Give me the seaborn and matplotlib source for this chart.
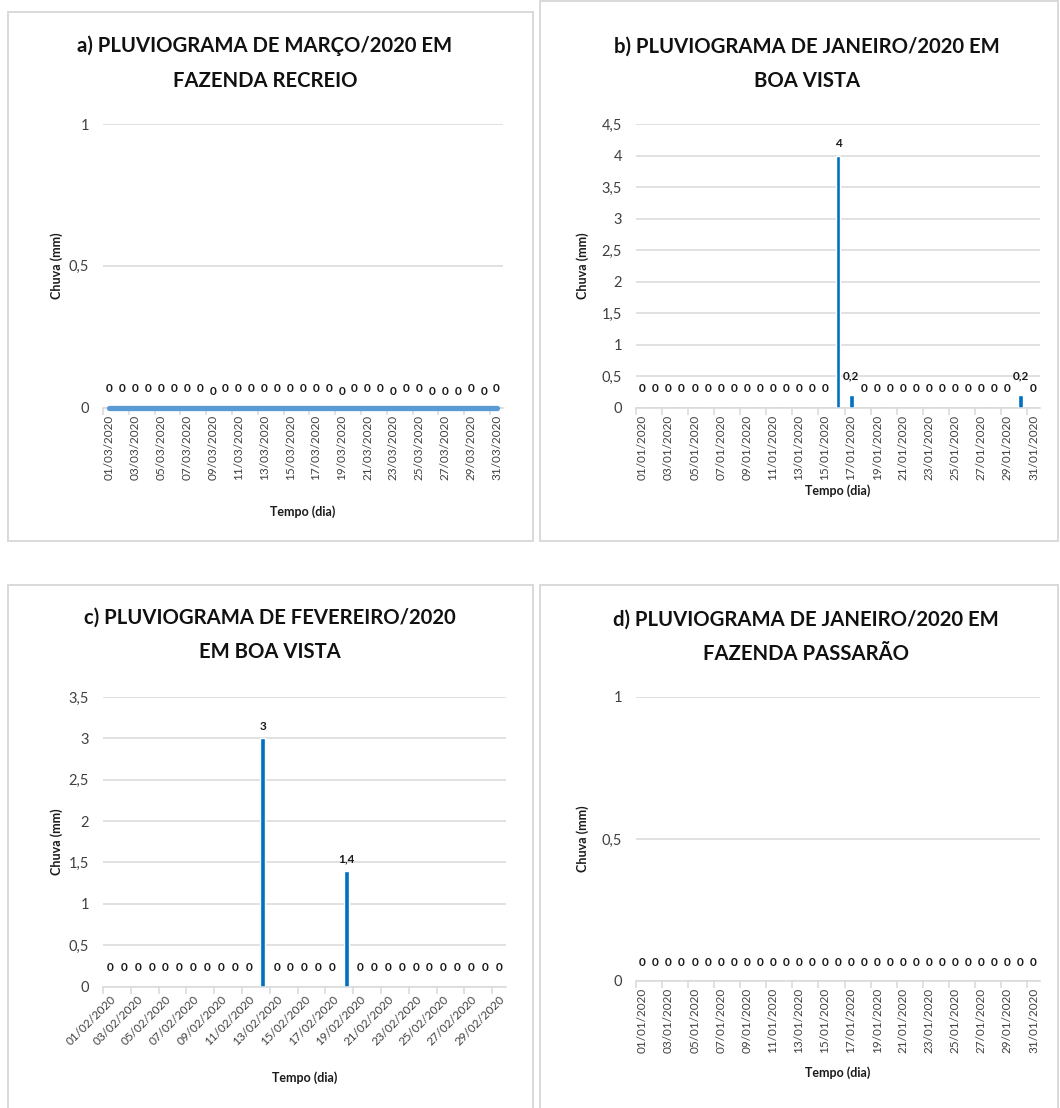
import matplotlib
matplotlib.use("Agg")
import matplotlib.pyplot as plt
from matplotlib.patches import Rectangle
from matplotlib.ticker import FuncFormatter
import numpy as np
import pandas as pd
import seaborn as sns

# ---------------- data ----------------
dias_marco = ["01/03/2020", "02/03/2020", "03/03/2020", "04/03/2020", "05/03/2020", "06/03/2020",
              "07/03/2020", "08/03/2020", "09/03/2020", "10/03/2020", "11/03/2020", "12/03/2020",
              "13/03/2020", "14/03/2020", "15/03/2020", "16/03/2020", "17/03/2020", "18/03/2020",
              "19/03/2020", "20/03/2020", "21/03/2020", "22/03/2020", "23/03/2020", "24/03/2020",
              "25/03/2020", "26/03/2020", "27/03/2020", "28/03/2020", "29/03/2020", "30/03/2020",
              "31/03/2020"]
dias_janeiro = ["01/01/2020", "02/01/2020", "03/01/2020", "04/01/2020", "05/01/2020", "06/01/2020",
                "07/01/2020", "08/01/2020", "09/01/2020", "10/01/2020", "11/01/2020", "12/01/2020",
                "13/01/2020", "14/01/2020", "15/01/2020", "16/01/2020", "17/01/2020", "18/01/2020",
                "19/01/2020", "20/01/2020", "21/01/2020", "22/01/2020", "23/01/2020", "24/01/2020",
                "25/01/2020", "26/01/2020", "27/01/2020", "28/01/2020", "29/01/2020", "30/01/2020",
                "31/01/2020"]
dias_fevereiro = ["01/02/2020", "02/02/2020", "03/02/2020", "04/02/2020", "05/02/2020", "06/02/2020",
                  "07/02/2020", "08/02/2020", "09/02/2020", "10/02/2020", "11/02/2020", "12/02/2020",
                  "13/02/2020", "14/02/2020", "15/02/2020", "16/02/2020", "17/02/2020", "18/02/2020",
                  "19/02/2020", "20/02/2020", "21/02/2020", "22/02/2020", "23/02/2020", "24/02/2020",
                  "25/02/2020", "26/02/2020", "27/02/2020", "28/02/2020", "29/02/2020"]

chuva_marco_recreio = [0, 0, 0, 0, 0, 0, 0, 0, 0, 0, 0, 0, 0, 0, 0, 0,
                       0, 0, 0, 0, 0, 0, 0, 0, 0, 0, 0, 0, 0, 0, 0]
chuva_janeiro_boavista = [0, 0, 0, 0, 0, 0, 0, 0, 0, 0, 0, 0, 0, 0, 0, 4,
                          0.2, 0, 0, 0, 0, 0, 0, 0, 0, 0, 0, 0, 0, 0.2, 0]
chuva_fevereiro_boavista = [0, 0, 0, 0, 0, 0, 0, 0, 0, 0, 0, 3, 0, 0, 0,
                            0, 0, 1.4, 0, 0, 0, 0, 0, 0, 0, 0, 0, 0, 0]
chuva_janeiro_passarao = [0, 0, 0, 0, 0, 0, 0, 0, 0, 0, 0, 0, 0, 0, 0, 0,
                          0, 0, 0, 0, 0, 0, 0, 0, 0, 0, 0, 0, 0, 0, 0]

titulos = ["a) PLUVIOGRAMA DE MARÇO/2020 EM\nFAZENDA RECREIO",
           "b) PLUVIOGRAMA DE JANEIRO/2020 EM\nBOA VISTA",
           "c) PLUVIOGRAMA DE FEVEREIRO/2020\nEM BOA VISTA",
           "d) PLUVIOGRAMA DE JANEIRO/2020 EM\nFAZENDA PASSARÃO"]

# ---------------- style ----------------
sns.set_theme(style="white")
plt.rcParams["font.family"] = ["Lato", "DejaVu Sans"]

W, H = 1060, 1108
fig = plt.figure(figsize=(W / 100, H / 100), dpi=100)
fig.patch.set_facecolor("white")

AZUL = "#0070C0"
AZUL_LINHA = "#5B9BD5"
GRADE = "#D9D9D9"
TEXTO = "#404040"


def px_rect(l, t, r, b):
    return [l / W, 1 - b / H, (r - l) / W, (b - t) / H]


def moldura(l, t, r, b):
    fig.patches.append(Rectangle((l / W, 1 - b / H), (r - l) / W, (b - t) / H,
                                 transform=fig.transFigure, fill=False,
                                 edgecolor=GRADE, lw=1.4, zorder=0))


virgula = FuncFormatter(lambda v, p: f"{v:g}".replace(".", ","))


def painel(rect, dias, chuva, ymax, titulo, titulo_xy, xlabel_y, ylabel_x,
           tipo="barra", rot=90, baixos=()):
    l, t, r, b = rect
    ax = fig.add_axes(px_rect(l, t, r, b))
    n = len(dias)
    df = pd.DataFrame({"idx": np.arange(n), "dia": dias, "chuva": chuva})

    if tipo == "linha":
        sns.lineplot(data=df, x="idx", y="chuva", ax=ax, color=AZUL_LINHA,
                     lw=3.8, solid_capstyle="round")
        for ln in ax.lines:
            ln.set_clip_on(False)
            ln.set_zorder(5)
    else:
        sns.barplot(data=df, x="idx", y="chuva", ax=ax, color=AZUL,
                    saturation=1, width=0.38, order=list(range(n)))

    ax.set_xlim(-0.5, n - 0.5)
    ax.set_ylim(0, ymax)
    ax.set_yticks(np.arange(0, ymax + 1e-9, 0.5))
    ax.yaxis.set_major_formatter(virgula)
    ax.yaxis.grid(True, color=GRADE, lw=1.1)
    ax.set_axisbelow(True)
    for s in ("top", "right", "left"):
        ax.spines[s].set_visible(False)
    ax.spines["bottom"].set_color(GRADE)
    ax.spines["bottom"].set_linewidth(1.1)

    ax.set_xticks(np.arange(0, n, 2))
    if rot == 45:
        ax.set_xticklabels(dias[::2], rotation=45, ha="right",
                           rotation_mode="anchor", fontsize=8.5, color=TEXTO)
    else:
        ax.set_xticklabels(dias[::2], rotation=90, fontsize=8.5, color=TEXTO)
    ax.set_xticks(np.arange(-0.5, n - 1, 2), minor=True)
    ax.tick_params(axis="x", which="major", length=0, pad=5)
    ax.tick_params(axis="x", which="minor", length=5, color=GRADE, width=1.1,
                   bottom=True)
    ax.tick_params(axis="y", length=0, labelsize=10.5, labelcolor=TEXTO, pad=10)

    ax.set_xlabel("Tempo (dia)", fontsize=9, fontweight="bold", color="#1a1a1a")
    ax.xaxis.label.set_va("center")
    ax.xaxis.set_label_coords(0.5, (b - xlabel_y) / (b - t))
    ax.set_ylabel("Chuva (mm)", fontsize=9, fontweight="bold", color="#1a1a1a")
    ax.yaxis.label.set_va("center")
    ax.yaxis.set_label_coords((ylabel_x - l) / (r - l), 0.5)

    # data labels above each day
    for i, v in enumerate(chuva):
        txt = f"{v:g}".replace(".", ",")
        if v == 0:
            off = 11.5 if i in baixos else 13.5
        elif v < 0.5:
            off = 14
        else:
            off = 8.5
        ax.annotate(txt, (i, v), xytext=(0, off), textcoords="offset points",
                    ha="center", va="center", fontsize=8.5, fontweight="bold",
                    color="#1a1a1a", annotation_clip=False)

    fig.text(titulo_xy[0] / W, 1 - titulo_xy[1] / H, titulo, ha="center", va="center",
             fontsize=14.6, fontweight="bold", color="#111111", linespacing=1.92)
    return ax


moldura(8, 12, 533, 541)
moldura(540, 1, 1058, 541)
moldura(8, 585, 533, 1112)
moldura(540, 585, 1058, 1112)

painel((103, 124, 503, 407.5), dias_marco, chuva_marco_recreio, 1.0, titulos[0],
       (265, 63), 512, 57, tipo="linha", baixos=(8, 18, 22, 25, 26, 27, 29))
painel((636, 124, 1040, 407.5), dias_janeiro, chuva_janeiro_boavista, 4.5, titulos[1],
       (807, 64), 491, 583)
painel((103, 697, 506, 986.5), dias_fevereiro, chuva_fevereiro_boavista, 3.5, titulos[2],
       (270, 635), 1078, 57, rot=45)
painel((636, 697, 1040, 981), dias_janeiro, chuva_janeiro_passarao, 1.0, titulos[3],
       (806, 637), 1073, 583)

fig.savefig("out.png", dpi=100, facecolor="white")
